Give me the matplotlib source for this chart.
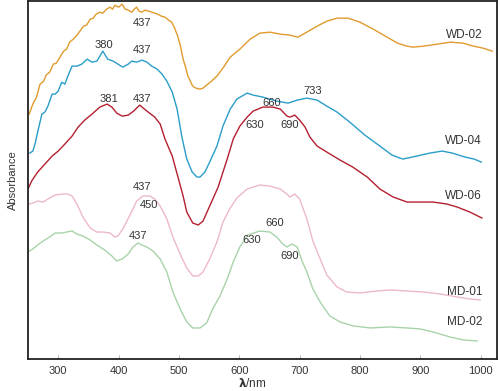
import matplotlib
matplotlib.use('Agg')
import matplotlib.pyplot as plt

plt.rcParams['font.family'] = ['Liberation Sans', 'DejaVu Sans']

# wavelength (nm) and absorbance (arb. units)
wd02_x = [252, 258, 264, 270, 276, 280, 286, 292, 297, 303, 309, 314, 319, 325, 330, 336, 342, 347, 353, 358, 363, 369, 374, 380, 386, 390, 394,
          400, 406, 411, 416, 422, 426, 430, 434, 438, 444, 450, 455, 460, 465, 471, 477, 483, 488, 493, 498, 503, 507, 511, 515, 519, 522, 525, 528,
          535, 540, 546, 554, 563, 574, 585, 601, 618, 634, 651, 668, 684, 697, 712, 729, 745, 762, 780, 800, 822, 845, 862, 878, 888, 905,
          928, 950, 971, 988, 1004, 1019]
wd02_y = [2.45, 2.55, 2.62, 2.75, 2.78, 2.84, 2.87, 2.95, 2.96, 3.02, 3.08, 3.10, 3.17, 3.20, 3.23, 3.28, 3.33, 3.34, 3.40, 3.41, 3.45, 3.47, 3.46, 3.50, 3.52, 3.50, 3.54,
          3.52, 3.55, 3.50, 3.49, 3.47, 3.50, 3.52, 3.48, 3.47, 3.49, 3.48, 3.47, 3.46, 3.45, 3.43, 3.42, 3.39, 3.37, 3.31, 3.23, 3.12, 3.00, 2.92, 2.83, 2.78, 2.74, 2.72, 2.71,
          2.70, 2.71, 2.74, 2.78, 2.83, 2.92, 3.02, 3.10, 3.20, 3.26, 3.27, 3.25, 3.24, 3.22, 3.27, 3.33, 3.38, 3.41, 3.41, 3.37, 3.30, 3.22, 3.16, 3.13, 3.12, 3.13,
          3.15, 3.17, 3.16, 3.13, 3.11, 3.08]

wd04_x = [253, 258, 262, 266, 273, 278, 283, 290, 295, 300, 306, 311, 316, 323, 331, 339, 348, 356, 364, 369, 374, 382, 391, 399, 407, 416, 422,
          430, 439, 447, 455, 464, 472, 480, 489, 497, 505, 513, 522, 530, 535, 543, 551, 563, 573, 585, 596, 613, 623, 639, 662, 681, 696, 712,
          729, 745, 762, 783, 808, 833, 853, 871, 894, 916, 936, 953, 974, 989, 1001]
wd04_y = [2.06, 2.08, 2.16, 2.27, 2.45, 2.47, 2.53, 2.65, 2.65, 2.68, 2.77, 2.75, 2.83, 2.93, 2.93, 2.95, 3.00, 2.97, 2.98, 3.03, 3.08, 3.00, 2.98, 2.95, 2.92, 2.95, 2.98,
          2.97, 2.99, 2.97, 2.93, 2.90, 2.85, 2.78, 2.67, 2.50, 2.22, 2.00, 1.87, 1.82, 1.82, 1.87, 1.97, 2.13, 2.33, 2.50, 2.60, 2.66, 2.64, 2.62, 2.58, 2.56, 2.59, 2.61,
          2.59, 2.53, 2.47, 2.37, 2.24, 2.13, 2.04, 2.00, 2.03, 2.06, 2.08, 2.06, 2.02, 2.00, 1.97]

wd06_x = [250, 256, 266, 278, 290, 300, 311, 323, 333, 344, 356, 369, 381, 389, 397, 406, 416, 425, 435, 447, 460, 469, 477, 489, 498, 507, 513,
          523, 532, 540, 551, 565, 580, 590, 601, 613, 623, 639, 656, 668, 679, 684, 692, 700, 709, 717, 729, 745, 767, 788, 812, 833, 855, 878,
          900, 921, 944, 961, 982, 1002]
wd06_y = [1.70, 1.78, 1.87, 1.95, 2.03, 2.08, 2.15, 2.23, 2.32, 2.39, 2.45, 2.52, 2.55, 2.52, 2.46, 2.43, 2.44, 2.48, 2.54, 2.48, 2.42, 2.35, 2.20, 2.03, 1.83, 1.63, 1.47,
          1.36, 1.34, 1.38, 1.53, 1.72, 2.00, 2.20, 2.33, 2.42, 2.48, 2.52, 2.52, 2.50, 2.43, 2.42, 2.44, 2.39, 2.32, 2.22, 2.13, 2.07, 1.99, 1.92, 1.82, 1.70, 1.62, 1.57,
          1.57, 1.57, 1.55, 1.52, 1.47, 1.41]

md01_x = [252, 258, 266, 275, 283, 295, 306, 316, 323, 331, 341, 353, 364, 374, 386, 394, 399, 407, 419, 430, 440, 452, 460, 469, 480, 490, 502,
          513, 523, 532, 540, 551, 563, 573, 585, 596, 613, 634, 651, 668, 679, 684, 692, 700, 712, 722, 734, 745, 762, 778, 800, 828, 850, 878,
          905, 933, 961, 982, 999]
md01_y = [1.55, 1.56, 1.58, 1.57, 1.60, 1.64, 1.65, 1.65, 1.63, 1.55, 1.42, 1.31, 1.27, 1.27, 1.26, 1.22, 1.23, 1.30, 1.44, 1.58, 1.63, 1.63, 1.60, 1.53, 1.40, 1.22, 1.05,
          0.91, 0.83, 0.83, 0.87, 1.00, 1.17, 1.37, 1.51, 1.61, 1.70, 1.74, 1.73, 1.70, 1.65, 1.62, 1.65, 1.60, 1.40, 1.18, 1.00, 0.84, 0.72, 0.67, 0.66, 0.68, 0.69, 0.68,
          0.67, 0.65, 0.62, 0.60, 0.59]

md02_x = [250, 258, 266, 275, 286, 295, 306, 314, 323, 331, 341, 353, 364, 377, 389, 397, 406, 416, 424, 432, 439, 447, 457, 469, 480, 490, 502,
          513, 523, 535, 546, 556, 568, 580, 590, 601, 614, 634, 651, 662, 672, 679, 687, 696, 704, 712, 722, 734, 750, 767, 789, 817, 850, 878,
          900, 921, 949, 971, 994]
md02_y = [1.07, 1.10, 1.14, 1.18, 1.22, 1.26, 1.26, 1.27, 1.28, 1.25, 1.23, 1.19, 1.14, 1.09, 1.03, 0.98, 1.00, 1.05, 1.12, 1.16, 1.14, 1.12, 1.08, 1.00, 0.87, 0.67, 0.50,
          0.37, 0.31, 0.31, 0.36, 0.50, 0.63, 0.80, 0.97, 1.12, 1.24, 1.28, 1.27, 1.22, 1.15, 1.12, 1.15, 1.12, 0.98, 0.87, 0.70, 0.57, 0.43, 0.37, 0.33, 0.31, 0.32, 0.31,
          0.30, 0.27, 0.22, 0.19, 0.18]

series_names = ['WD-02', 'WD-04', 'WD-06', 'MD-01', 'MD-02']
name_pos = [(973, 3.24), (971, 2.18), (971, 1.63), (974, 0.67), (974, 0.37)]

# peak annotations: text, x, y
peak_labels = [('437', 439, 3.36), ('380', 376, 3.14), ('437', 439, 3.09),
               ('381', 384, 2.60), ('437', 439, 2.60), ('733', 722, 2.68),
               ('660', 653, 2.56), ('630', 625, 2.34), ('690', 684, 2.34),
               ('437', 439, 1.72), ('450', 451, 1.54), ('437', 432, 1.23),
               ('660', 659, 1.36), ('630', 621, 1.19), ('690', 684, 1.03)]

colors = ['#E09A2E', '#2A9DC9', '#B41F2F', '#EDB8CA', '#A8D3A9']

fig = plt.figure(figsize=(5.0, 3.91), dpi=100)
ax = fig.add_axes([0.056, 0.082, 0.938, 0.915])

for xs, ys, c in zip([wd02_x, wd04_x, wd06_x, md01_x, md02_x],
                     [wd02_y, wd04_y, wd06_y, md01_y, md02_y], colors):
    ax.plot(xs, ys, color=c, lw=1.0, solid_joinstyle='round')

for name, (x, y) in zip(series_names, name_pos):
    ax.text(x, y, name, fontsize=8.5, color='#333333', ha='center', va='center')

for t, x, y in peak_labels:
    ax.text(x, y, t, fontsize=8, color='#333333', ha='center', va='center')

ax.set_xlim(250, 1027)
ax.set_ylim(0, 3.58)
ax.set_xticks([300, 400, 500, 600, 700, 800, 900, 1000])
ax.set_yticks([])
ax.tick_params(axis='x', direction='in', length=3, width=0.6, color='#aaaaaa',
               labelsize=8, labelcolor='#333333', pad=5)
for s in ax.spines.values():
    s.set_linewidth(1.3)
    s.set_color('#222222')

ax.set_xlabel(r'$\mathbf{\lambda}$/nm', fontsize=8.5, color='#333333')
ax.xaxis.set_label_coords(0.478, -0.05)
ax.set_ylabel('Absorbance', fontsize=8, color='#333333')
ax.yaxis.set_label_coords(-0.022, 0.5)

fig.savefig('out.png', dpi=100)
